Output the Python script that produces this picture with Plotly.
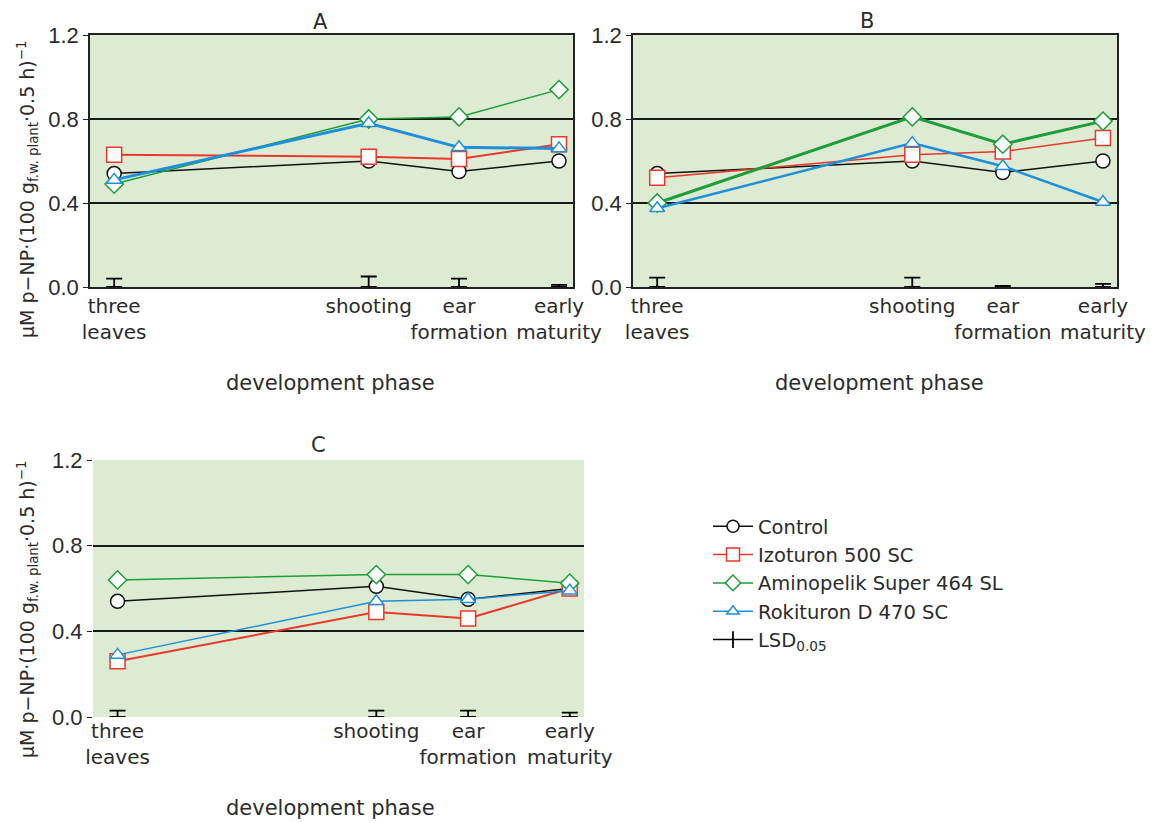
import plotly.graph_objects as go

# ---------------- data ----------------
phases = ["three<br>leaves", "shooting", "ear<br>formation", "early<br>maturity"]
phase_pos = [5, 57.7, 76.4, 97.1]

series_names = ["Control", "Izoturon 500 SC", "Aminopelik Super 464 SL", "Rokituron D 470 SC"]

control_A = [0.54, 0.60, 0.55, 0.60]
izo_A = [0.63, 0.62, 0.61, 0.68]
amino_A = [0.49, 0.80, 0.81, 0.94]
roki_A = [0.51, 0.78, 0.665, 0.66]
lsd_A = [0.04, 0.05, 0.04, 0.01]

control_B = [0.54, 0.60, 0.545, 0.60]
izo_B = [0.52, 0.63, 0.645, 0.71]
amino_B = [0.40, 0.81, 0.68, 0.79]
roki_B = [0.375, 0.685, 0.575, 0.405]
lsd_B = [0.045, 0.045, 0.005, 0.015]

control_C = [0.54, 0.61, 0.55, 0.60]
izo_C = [0.26, 0.49, 0.46, 0.60]
amino_C = [0.64, 0.665, 0.665, 0.625]
roki_C = [0.29, 0.54, 0.55, 0.59]
lsd_C = [0.03, 0.03, 0.03, 0.02]

y_ticks = [0.0, 0.4, 0.8, 1.2]
y_ticktext = ["0.0", "0.4", "0.8", "1.2"]

# ---------------- style ----------------
W, H = 1160, 823
OFF = 8  # page body margin
FONT = "DejaVu Sans, Liberation Sans, Arial, sans-serif"
NARROW = "Liberation Sans Narrow, Arial Narrow, Liberation Sans, sans-serif"
TXT = "#2b2b2b"
BG = "#DDEBD3"
FS = 21
colors = ["#111111", "#E8382B", "#1E9E3A", "#1E8FD8"]
symbols = ["circle", "square", "diamond", "triangle-up"]
msize = [14, 15, 14, 13]
widths = {
    "A": [1.5, 2.0, 1.5, 3.0],
    "B": [1.5, 1.5, 3.0, 2.5],
    "C": [1.5, 2.0, 1.5, 1.5],
}

panels = {
    "A": dict(data=[control_A, izo_A, amino_A, roki_A], lsd=lsd_A, x=(90, 573), y=(35, 287), frame=True),
    "B": dict(data=[control_B, izo_B, amino_B, roki_B], lsd=lsd_B, x=(633, 1117), y=(35, 287), frame=True),
    "C": dict(data=[control_C, izo_C, amino_C, roki_C], lsd=lsd_C, x=(93, 584), y=(460, 717), frame=False),
}


def px(xp):
    return (xp - OFF) / W


def py(yp):
    return 1 - (yp - OFF) / H


fig = go.Figure()
layout = dict(
    width=W, height=H,
    margin=dict(l=0, r=0, t=0, b=0),
    paper_bgcolor="white",
    plot_bgcolor=BG,
    font=dict(family=FONT, size=FS, color=TXT),
    showlegend=True,
    legend=dict(x=px(708), y=py(507), xanchor="left", yanchor="top",
                bgcolor="rgba(0,0,0,0)", font=dict(size=19.5, color=TXT, family=FONT),
                tracegroupgap=0, itemwidth=40),
)

for i, (key, p) in enumerate(panels.items()):
    n = "" if i == 0 else str(i + 1)
    xa, ya = "x" + n, "y" + n
    for s in range(4):
        fig.add_trace(go.Scatter(
            x=phase_pos, y=p["data"][s], xaxis=xa, yaxis=ya,
            mode="lines+markers", name=series_names[s],
            line=dict(color=colors[s], width=widths[key][s]),
            marker=dict(symbol=symbols[s], size=msize[s], color="white",
                        line=dict(color=colors[s], width=1.5)),
            showlegend=False, cliponaxis=False,
        ))
    half = [v / 2 for v in p["lsd"]]
    fig.add_trace(go.Scatter(
        x=phase_pos, y=half, xaxis=xa, yaxis=ya, mode="markers",
        marker=dict(size=1, opacity=0, color="black"),
        error_y=dict(type="data", array=half, visible=True, color="black",
                     thickness=1.8, width=8),
        showlegend=False, hoverinfo="skip", cliponaxis=False,
    ))
    layout["xaxis" + n] = dict(
        domain=[px(p["x"][0]), px(p["x"][1])], range=[0, 100],
        anchor=ya, tickvals=phase_pos, ticktext=phases, ticks="", tickangle=0,
        showgrid=False, zeroline=False, automargin=False,
        showline=p["frame"], linecolor="#222", linewidth=1.5, mirror=p["frame"],
        tickfont=dict(size=20, color=TXT, family=FONT),
    )
    layout["yaxis" + n] = dict(
        domain=[py(p["y"][1]), py(p["y"][0])], range=[0, 1.2],
        anchor=xa, tickvals=y_ticks, ticktext=y_ticktext, ticks="outside",
        ticklen=5, tickcolor="#222", showgrid=True, gridcolor="#1a1a1a",
        gridwidth=1.5, zeroline=False, automargin=False,
        showline=p["frame"], linecolor="#222", linewidth=1.5, mirror=p["frame"],
        tickfont=dict(size=22, color=TXT, family=NARROW),
    )

# legend entries (drawn only in legend)
for s in range(4):
    fig.add_trace(go.Scatter(
        x=[None], y=[None], mode="lines+markers", name=series_names[s],
        line=dict(color=colors[s], width=1.5),
        marker=dict(symbol=symbols[s], size=msize[s] - 2, color="white",
                    line=dict(color=colors[s], width=1.5)),
        showlegend=True,
    ))
fig.add_trace(go.Scatter(
    x=[None], y=[None], mode="lines+markers", name="LSD<sub>0.05</sub>",
    line=dict(color="black", width=1.5),
    marker=dict(symbol="line-ns", size=12, line=dict(color="black", width=1.8)),
    showlegend=True,
))

ytitle = "μM p−NP·(100 g<sub>f.w. plant</sub>·0.5 h)<sup>−1</sup>"


def ann(text, x, y, angle=0, size=FS):
    return dict(text=text, x=px(x), y=py(y), xref="paper", yref="paper",
                showarrow=False, xanchor="center", yanchor="middle",
                textangle=angle, font=dict(size=size, color=TXT, family=FONT))


annotations = [
    ann("A", 320, 22), ann("B", 867, 21), ann("C", 318, 445),
    ann("development phase", 330, 383),
    ann("development phase", 880, 383),
    ann("development phase", 330, 808),
    ann(ytitle, 27, 190, -90, 19),
    ann(ytitle, 27, 610, -90, 19),
]
layout["annotations"] = annotations
fig.update_layout(**layout)
fig.write_html("out.html")
